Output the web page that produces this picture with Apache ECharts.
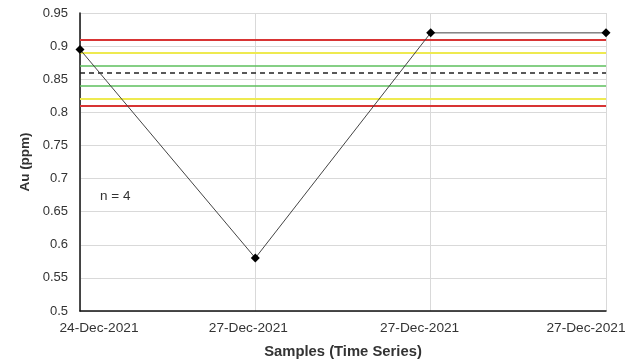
<!DOCTYPE html>
<html><head><meta charset="utf-8">
<script src="https://cdn.jsdelivr.net/npm/echarts@6/dist/echarts.min.js"></script>
<style>html,body{margin:0;padding:0;background:#fff}#c{width:632px;height:360px}</style>
</head><body><div id="c"></div>
<script>
var categories = ['24-Dec-2021', '27-Dec-2021', '27-Dec-2021', '27-Dec-2021'];
var auValues = [0.895, 0.58, 0.92, 0.92];
var meanValue = 0.857;
var sd1Lines = [0.874, 0.840];
var sd2Lines = [0.891, 0.823];
var sd3Lines = [0.908, 0.806];
var yTicks = { min: 0.5, max: 0.95, interval: 0.05 };
var noteText = 'n = 4';

function ml(vals, color, type, width) {
  return {
    silent: true, symbol: 'none', label: { show: false },
    lineStyle: { color: color, type: type, width: width },
    data: vals.map(function (v) { return { yAxis: v }; })
  };
}

var labelFont = { fontFamily: 'Liberation Sans', fontSize: 13.7, color: '#333' };
var chart = echarts.init(document.getElementById('c'), null, { renderer: 'canvas' });
chart.setOption({
  animation: false,
  backgroundColor: '#fff',
  grid: { left: 80, right: 26, top: 13, bottom: 49, containLabel: false, outerBoundsMode: 'none' },
  xAxis: {
    type: 'category', data: categories, boundaryGap: false,
    name: 'Samples (Time Series)', nameLocation: 'middle', nameGap: 33,
    nameTextStyle: { fontFamily: 'Liberation Sans', fontWeight: 'bold', fontSize: 14.8, color: '#333' },
    axisLine: { lineStyle: { color: '#111', width: 1.5 } },
    axisTick: { show: false },
    axisLabel: {
      fontFamily: 'Liberation Sans', fontSize: 13.7, color: '#333', margin: 10,
      formatter: function (v, i) { return '{s' + i + '|' + v + '}'; },
      rich: {
        s0: Object.assign({ padding: [0, 0, 0, 38] }, labelFont),
        s1: Object.assign({ padding: [0, 14, 0, 0] }, labelFont),
        s2: Object.assign({ padding: [0, 22, 0, 0] }, labelFont),
        s3: Object.assign({ padding: [0, 40, 0, 0] }, labelFont)
      }
    },
    splitLine: { show: true, lineStyle: { color: '#d9d9d9', width: 1 } }
  },
  yAxis: {
    type: 'value', min: yTicks.min, max: yTicks.max, interval: yTicks.interval,
    name: 'Au (ppm)', nameLocation: 'middle', nameGap: 43, nameRotate: 90,
    nameTextStyle: { fontFamily: 'Liberation Sans', fontWeight: 'bold', fontSize: 13.5, color: '#333' },
    axisLine: { show: true, lineStyle: { color: '#111', width: 1.5 } },
    axisTick: { show: false },
    axisLabel: { fontFamily: 'Liberation Sans', fontSize: 13, color: '#333', margin: 12 },
    splitLine: { show: true, lineStyle: { color: '#d9d9d9', width: 1 } }
  },
  graphic: [{
    type: 'text', left: 100, top: 189,
    style: { text: noteText, fontFamily: 'Liberation Sans', fontSize: 13.5, fill: '#333' }
  }],
  series: [
    { type: 'line', data: [], markLine: ml(sd3Lines, '#d83434', 'solid', 1.8) },
    { type: 'line', data: [], markLine: ml(sd2Lines, '#eeea50', 'solid', 1.8) },
    { type: 'line', data: [], markLine: ml(sd1Lines, '#5cbf5c', 'solid', 1.5) },
    { type: 'line', data: [], markLine: ml([meanValue], '#222', [5, 4], 1.6) },
    {
      type: 'line', data: auValues, z: 5,
      symbol: 'diamond', symbolSize: 9,
      itemStyle: { color: '#000' },
      lineStyle: { color: '#444', width: 1 }
    }
  ]
});
</script></body></html>
